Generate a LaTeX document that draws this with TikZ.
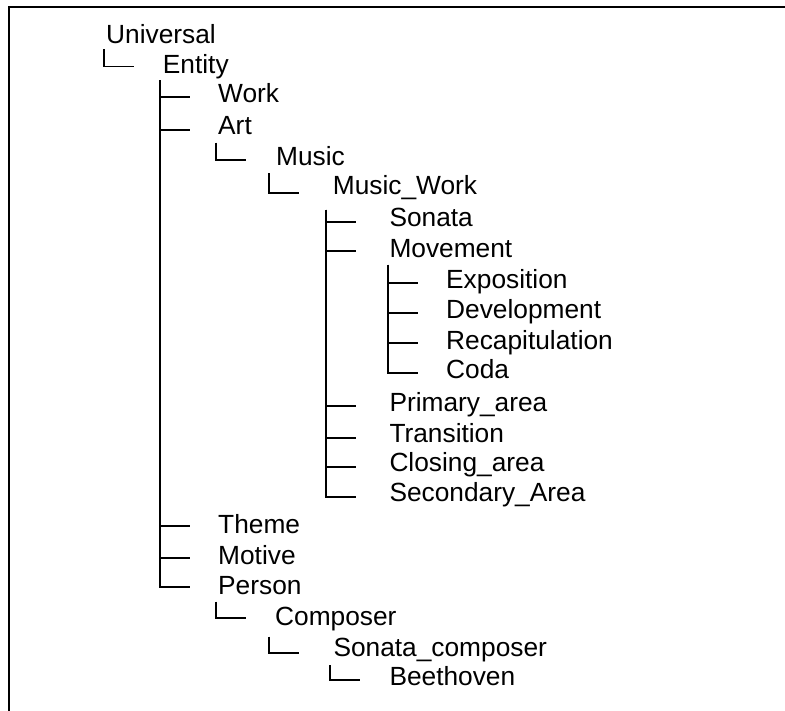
\documentclass[tikz,border=0pt]{standalone}
\usepackage{fontspec}
\setmainfont{Liberation Sans}
\usetikzlibrary{calc}
\tikzset{
  lbl/.style={anchor=base west, inner sep=0pt, font=\fontsize{26.3}{30}\selectfont, text=black},
  edge/.style={line width=1.8pt, black},
  frameline/.style={line width=2pt, black}
}
\newcommand{\treeedge}[5]{%
  \draw[edge] let \p1=([xshift=#3pt,yshift=-#4pt]#1.base west),
                  \p2=([yshift=#5pt]#2.base west)
              in (\x1,\y1) |- (\x1+30pt,\y2);}
\begin{document}
\begin{tikzpicture}[x=1pt,y=-1pt]
\useasboundingbox (0,0) rectangle (785,711);
% frame
\coordinate (fbl) at (9,715);
\coordinate (ftl) at (9,7.3);
\coordinate (ftr) at (790,7.3);
\draw[frameline] (fbl) -- (ftl) -- (ftr);
% nodes
\node[lbl] (universal) at (106,43.3) {Universal};
\node[lbl] (entity) at (162.7,73.3) {Entity};
\node[lbl] (work) at (218,103) {Work};
\node[lbl] (art) at (218,135) {Art};
\node[lbl] (music) at (276,166) {Music};
\node[lbl] (musicwork) at (332.7,195) {Music\_Work};
\node[lbl] (sonata) at (389.3,226.7) {Sonata};
\node[lbl] (movement) at (389.3,257.7) {Movement};
\node[lbl] (exposition) at (446,289) {Exposition};
\node[lbl] (development) at (446,318.3) {Development};
\node[lbl] (recap) at (446,349.3) {Recapitulation};
\node[lbl] (coda) at (446,379) {Coda};
\node[lbl] (primary) at (389.3,411) {Primary\_area};
\node[lbl] (transition) at (389.3,442.3) {Transition};
\node[lbl] (closing) at (389.3,471.7) {Closing\_area};
\node[lbl] (secondary) at (389.3,501.7) {Secondary\_Area};
\node[lbl] (theme) at (218,533.3) {Theme};
\node[lbl] (motive) at (218,564) {Motive};
\node[lbl] (person) at (218,594.3) {Person};
\node[lbl] (composer) at (275,625) {Composer};
\node[lbl] (sonatacomposer) at (333.3,656) {Sonata\_composer};
\node[lbl] (beethoven) at (389.3,685) {Beethoven};
% connectors
\treeedge{universal}{entity}{-2}{6}{6.7}
\treeedge{entity}{work}{-2.4}{7}{6.3}
\treeedge{entity}{art}{-2.4}{7}{5}
\treeedge{entity}{theme}{-2.4}{7}{7.3}
\treeedge{entity}{motive}{-2.4}{7}{5.7}
\treeedge{entity}{person}{-2.4}{7}{7}
\treeedge{art}{music}{-2}{7.7}{6}
\treeedge{music}{musicwork}{-6.7}{7.3}{2.3}
\treeedge{musicwork}{sonata}{-6.7}{15}{5}
\treeedge{musicwork}{movement}{-6.7}{15}{6.7}
\treeedge{musicwork}{primary}{-6.7}{15}{5.3}
\treeedge{musicwork}{transition}{-6.7}{15}{4}
\treeedge{musicwork}{closing}{-6.7}{15}{4.4}
\treeedge{musicwork}{secondary}{-6.7}{15}{4.4}
\treeedge{movement}{exposition}{-1}{7.3}{6.3}
\treeedge{movement}{development}{-1}{7.3}{5}
\treeedge{movement}{recap}{-1}{7.3}{6}
\treeedge{movement}{coda}{-1}{7.3}{6.3}
\treeedge{person}{composer}{-2}{7.4}{6.7}
\treeedge{composer}{sonatacomposer}{-5.7}{11.7}{3.3}
\treeedge{sonatacomposer}{beethoven}{-3.3}{9}{5}
\end{tikzpicture}
\end{document}
